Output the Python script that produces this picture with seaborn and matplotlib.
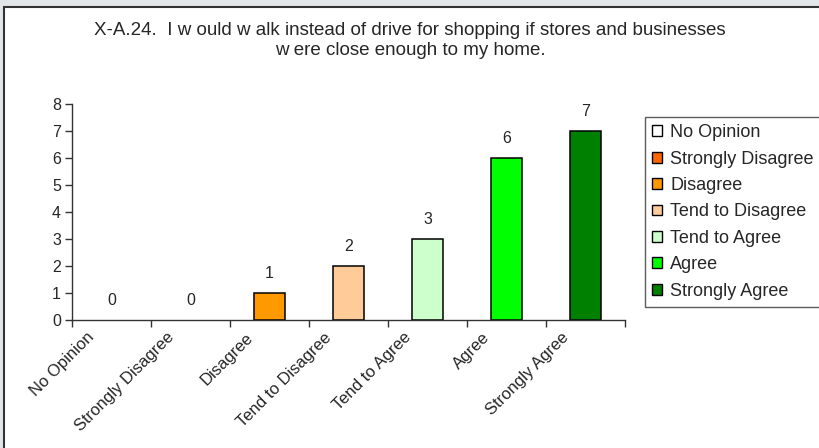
import matplotlib
matplotlib.use("Agg")
import matplotlib.pyplot as plt
import matplotlib.transforms as mtransforms
from matplotlib.patches import Rectangle, Patch
import seaborn as sns
import pandas as pd

# datos del grafico
categorias = ["No Opinion", "Strongly Disagree", "Disagree", "Tend to Disagree",
              "Tend to Agree", "Agree", "Strongly Agree"]
valores = [0, 0, 1, 2, 3, 6, 7]
colores = ["#FFFFFF", "#FF6600", "#FF9900", "#FFCC99", "#CCFFCC", "#00FF00", "#008000"]
titulo = ("X-A.24.  I w ould w alk instead of drive for shopping if stores and businesses\n"
          "w ere close enough to my home.")

df = pd.DataFrame({"categoria": categorias, "valor": valores})

sns.set_style("white")
plt.rcParams["font.family"] = ["Liberation Sans", "DejaVu Sans"]

fig = plt.figure(figsize=(8.2, 4.48), dpi=100)
fig.patch.set_facecolor("#E3E6E9")

# panel blanco con borde oscuro (arriba / izquierda)
panel = Rectangle((4 / 820, -0.05), 1.1, 1 - 7 / 448 + 0.05, transform=fig.transFigure,
                  facecolor="white", edgecolor="#333333", linewidth=1.5, zorder=-10)
fig.patches.append(panel)

ax = fig.add_axes([72 / 820, 1 - 320 / 448, (625 - 72) / 820, (320 - 104) / 448])
ax.set_facecolor("none")

sns.barplot(data=df, x="categoria", y="valor", hue="categoria", palette=colores,
            order=categorias, hue_order=categorias, legend=False, width=0.4,
            saturation=1, edgecolor="black", linewidth=1.1, ax=ax)
# barras de altura cero no se ven en el original
for p in ax.patches:
    if p.get_height() == 0:
        p.set_visible(False)

# etiquetas de valor
for i, v in enumerate(valores):
    ax.annotate(str(v), (i, v), xytext=(0, 9), textcoords="offset points",
                ha="center", va="bottom", fontsize=11.5)

ax.set_xlim(-0.5, len(categorias) - 0.5)
ax.set_ylim(0, 8)
ax.set_yticks(range(0, 9))
ax.set_xlabel("")
ax.set_ylabel("")
for s in ["top", "right"]:
    ax.spines[s].set_visible(False)
for s in ["left", "bottom"]:
    ax.spines[s].set_color("#333333")
    ax.spines[s].set_linewidth(1.0)

ax.tick_params(axis="y", direction="out", length=5, width=1, color="#333333",
               labelsize=11.5, pad=3, left=True)
ax.set_xticks(range(len(categorias)))
ax.set_xticklabels(categorias, rotation=45, ha="right", va="top",
                   rotation_mode="default", fontsize=12)
ax.tick_params(axis="x", which="major", length=0, pad=7)
ax.set_xticks([i - 0.5 for i in range(len(categorias) + 1)], minor=True)
ax.tick_params(axis="x", which="minor", direction="out", length=5, width=1,
               color="#333333", bottom=True)
offset = mtransforms.ScaledTranslation(-14 / 100, 0, fig.dpi_scale_trans)
for lbl in ax.get_xticklabels():
    lbl.set_transform(lbl.get_transform() + offset)

fig.text(0.5, 1 - 22 / 448, titulo, ha="center", va="top", fontsize=13.5,
         linespacing=1.2)

handles = [Patch(facecolor=c, edgecolor="black", linewidth=1.0) for c in colores]
leg = fig.legend(handles, categorias, loc="upper left",
                 bbox_to_anchor=(645 / 820, 1 - 117 / 448), frameon=True,
                 fancybox=False, fontsize=13, handlelength=0.55, handleheight=0.55,
                 handletextpad=0.45, labelspacing=0.52, borderpad=0.4,
                 borderaxespad=0)
leg.get_frame().set_edgecolor("#333333")
leg.get_frame().set_linewidth(1.0)

fig.savefig("out.png", dpi=100, facecolor=fig.get_facecolor())
